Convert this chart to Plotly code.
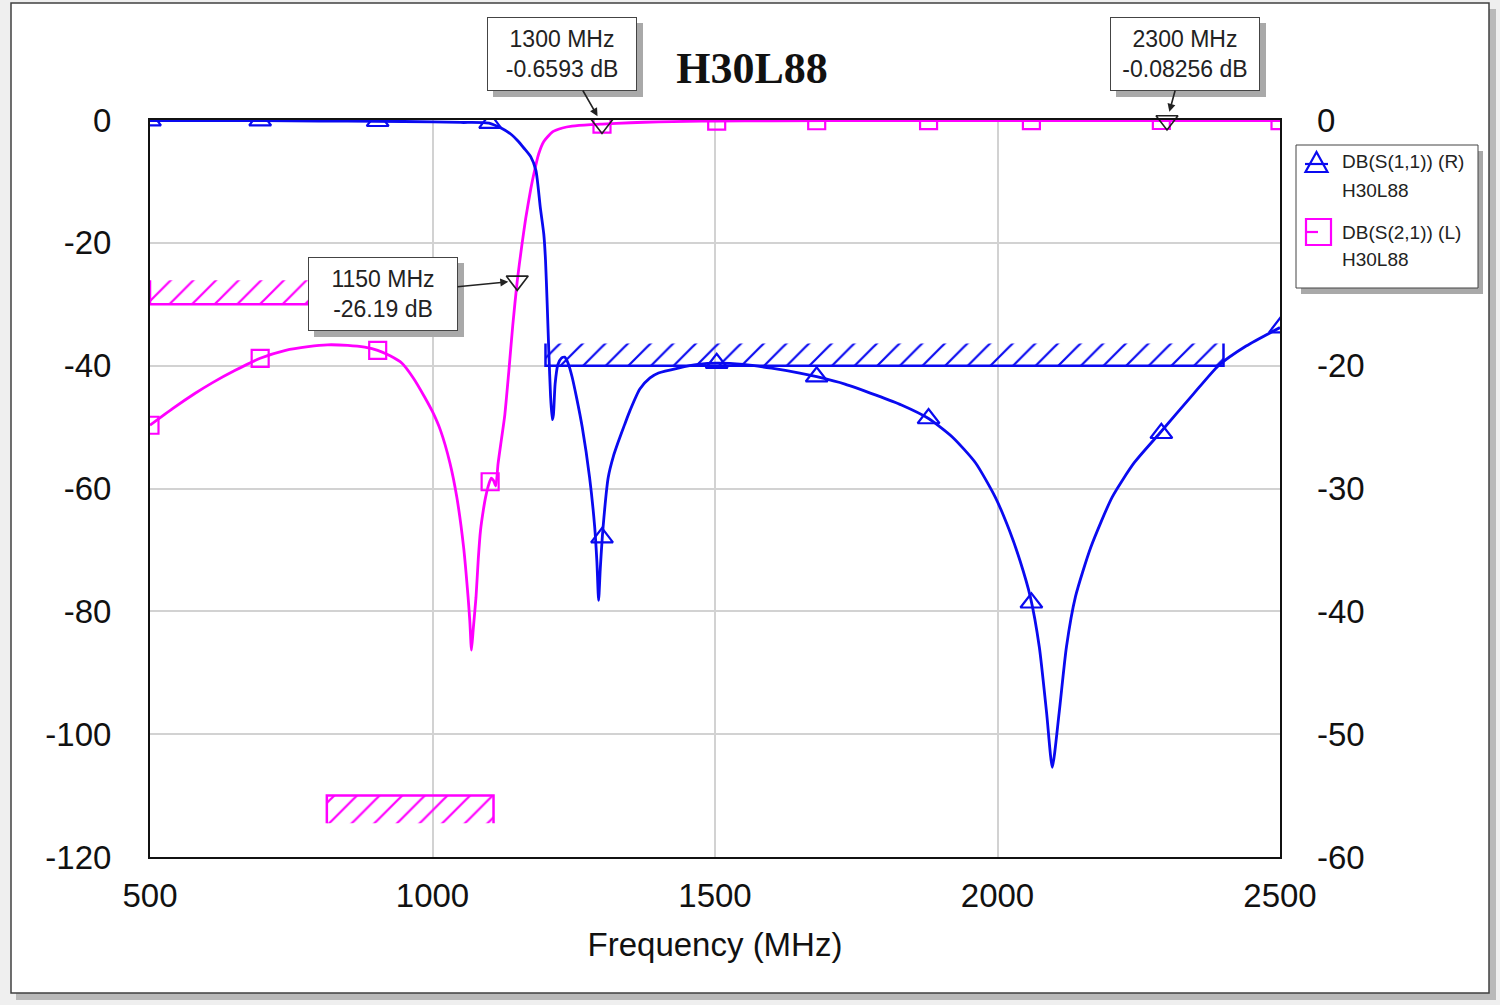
import plotly.graph_objects as go

# ---------------- data ----------------
# DB(S(2,1)) (L)  -- left axis
s21_freq = [500, 540, 580, 610, 650, 695, 740, 780, 814, 850, 880, 903, 925, 946, 966, 986,
            1000, 1014, 1031, 1043, 1055, 1063, 1066, 1069, 1072, 1077, 1081, 1085, 1090, 1094,
            1100, 1104, 1108, 1112, 1116, 1122, 1128, 1135, 1142, 1150, 1158, 1165, 1174, 1180,
            1188, 1197, 1213, 1230, 1247, 1280, 1300, 1350, 1400, 1450, 1500, 1600, 1800, 2000,
            2300, 2500]
s21_db = [-49.7, -47.0, -44.5, -42.8, -40.8, -38.8, -37.5, -36.9, -36.6, -36.7, -37.0, -37.5,
          -38.4, -39.6, -42.0, -45.1, -47.5, -50.5, -55.9, -61.4, -69.5, -77.7, -81.5, -86.3,
          -83.0, -77.7, -71.5, -66.8, -63.5, -61.4, -59.2, -58.3, -58.7, -59.6, -56.0, -52.0,
          -48.0, -41.0, -33.5, -26.19, -20.5, -16.0, -11.2, -8.5, -5.5, -3.5, -1.9, -1.3, -1.0,
          -0.75, -0.6593, -0.45, -0.30, -0.22, -0.18, -0.14, -0.10, -0.09, -0.08256, -0.09]

# DB(S(1,1)) (R)  -- right axis
s11_freq = [500, 600, 700, 800, 900, 1000, 1050, 1100, 1123, 1140, 1150, 1162, 1174, 1183,
            1191, 1197, 1200, 1203, 1206, 1209, 1212, 1214, 1217, 1222, 1228, 1234, 1240, 1247,
            1255, 1265, 1278, 1287, 1291, 1294, 1297, 1302, 1311, 1320, 1328, 1340, 1350, 1367,
            1385, 1400, 1435, 1470, 1503, 1550, 1600, 1650, 1680, 1730, 1785, 1830, 1878, 1920,
            1961, 1996, 2021, 2040, 2058, 2074, 2087, 2097, 2109, 2122, 2138, 2165, 2203, 2242,
            2287, 2345, 2391, 2440, 2500]
s11_db = [-0.05, -0.05, -0.05, -0.08, -0.10, -0.15, -0.20, -0.25, -0.7, -1.2, -1.65, -2.3,
          -3.0, -4.1, -7.2, -9.3, -11.4, -15.0, -19.0, -22.5, -24.4, -24.0, -21.5, -19.9,
          -19.4, -19.3, -19.8, -20.9, -22.6, -25.0, -29.1, -33.1, -36.0, -39.1, -36.5, -33.1,
          -29.1, -27.4, -26.3, -24.8, -23.6, -21.9, -21.0, -20.6, -20.2, -19.9, -19.8, -19.9,
          -20.2, -20.6, -20.9, -21.5, -22.4, -23.2, -24.3, -25.8, -27.9, -30.7, -33.4, -35.9,
          -38.8, -42.9, -48.3, -52.7, -48.3, -42.9, -38.8, -34.8, -30.7, -27.9, -25.5, -22.4,
          -20.0, -18.4, -16.9]

# trace symbols (same frequencies for both traces)
sym_freq = [500, 695, 903, 1102, 1300, 1503, 1680, 1878, 2060, 2290, 2500]
s21_sym_db = [-49.7, -38.8, -37.5, -58.9, -0.66, -0.18, -0.12, -0.10, -0.09, -0.083, -0.09]
s11_sym_db = [-0.05, -0.05, -0.10, -0.25, -34.0, -19.8, -20.9, -24.3, -39.3, -25.5, -16.9]

# readout markers on DB(S(2,1))
mk_freq = [1150, 1300, 2300]
mk_db = [-26.19, -0.6593, -0.08256]
mk_text = ["1150 MHz<br>-26.19 dB", "1300 MHz<br>-0.6593 dB", "2300 MHz<br>-0.08256 dB"]

# specification goals: (f1, f2, limit, hatch edge)
spec_s21_a = [500, 800, -30, -26.1]
spec_s21_b = [813, 1108, -110, -114.5]
spec_s11 = [1200, 2400, -20, -18.2]

x_ticks = [500, 1000, 1500, 2000, 2500]
x_ticktext = ["500", "1000", "1500", "2000", "2500"]
yl_ticks = [0, -20, -40, -60, -80, -100, -120]
yl_ticktext = ["0", "-20", "-40", "-60", "-80", "-100", "-120"]
# the -10 label of the right axis is hidden behind the legend in the reference
yr_ticks = [0, -20, -30, -40, -50, -60]
yr_ticktext = ["0", "-20", "-30", "-40", "-50", "-60"]

legend_names = ["DB(S(1,1)) (R)", "H30L88", "DB(S(2,1)) (L)", "H30L88"]

# ---------------- styling ----------------
W, H = 1500, 1005
ML, MR, MT, MB = 150, 220, 120, 148
PW, PH = W - ML - MR, H - MT - MB
BLUE = "#0a0af0"
PINK = "#ff00ff"
SANS = "Liberation Sans, Arial, sans-serif"
SERIF = "Liberation Serif, Times New Roman, serif"


def fx(p):
    return (p - ML) / PW


def fy(p):
    return (H - MB - p) / PH


def pix_x(f):
    return ML + (f - 500) / 2000 * PW


def pix_yl(v):
    return MT + (-v) / 120 * PH


fig = go.Figure()


def spec(s, color, yaxis):
    f1, f2, lim, edge = s
    fig.add_trace(go.Scatter(
        x=[f1, f2, f2, f1, f1], y=[lim, lim, edge, edge, lim], yaxis=yaxis,
        fill="toself", mode="none", fillcolor="rgba(0,0,0,0)",
        fillpattern=dict(shape="/", fgcolor=color, bgcolor="rgba(0,0,0,0)",
                         size=16, solidity=0.14, fillmode="replace"),
        hoverinfo="skip", showlegend=False))
    fig.add_trace(go.Scatter(
        x=[f1, f1, f2, f2], y=[edge, lim, lim, edge], yaxis=yaxis, mode="lines",
        line=dict(color=color, width=2.5), hoverinfo="skip", showlegend=False))


spec(spec_s21_a, PINK, "y")
spec(spec_s21_b, PINK, "y")
spec(spec_s11, BLUE, "y2")

fig.add_trace(go.Scatter(x=s21_freq, y=s21_db, yaxis="y", mode="lines",
                         line=dict(color=PINK, width=2.8, shape="spline", smoothing=0.6),
                         showlegend=False))
fig.add_trace(go.Scatter(x=s11_freq, y=s11_db, yaxis="y2", mode="lines",
                         line=dict(color=BLUE, width=2.8, shape="spline", smoothing=0.6),
                         showlegend=False))
fig.add_trace(go.Scatter(x=sym_freq, y=s21_sym_db, yaxis="y", mode="markers",
                         marker=dict(symbol="square-open", size=17, color=PINK,
                                     line=dict(width=2.2, color=PINK)),
                         showlegend=False))
fig.add_trace(go.Scatter(x=sym_freq, y=s11_sym_db, yaxis="y2", mode="markers",
                         marker=dict(symbol="triangle-up-open", size=19, color=BLUE,
                                     line=dict(width=2.2, color=BLUE)),
                         showlegend=False))
fig.add_trace(go.Scatter(x=mk_freq, y=mk_db, yaxis="y", mode="markers", cliponaxis=False,
                         marker=dict(symbol="triangle-down-open", size=19, color="#222",
                                     line=dict(width=1.6, color="#222")),
                         showlegend=False))

# ---------------- readout boxes ----------------
box_centers = [(383, 294), (562, 54), (1185, 54)]
annotations = []
for f, v, t, (cx, cy) in zip(mk_freq, mk_db, mk_text, box_centers):
    ax = cx - pix_x(f)
    ay = cy - pix_yl(v)
    # drop shadow box (no text)
    annotations.append(dict(x=f, y=v, xref="x", yref="y", text="\u00a0", width=136, height=60,
                            borderpad=6, borderwidth=1, showarrow=False,
                            xshift=ax + 6, yshift=-(ay + 6),
                            bgcolor="#a9a9a9", bordercolor="#a9a9a9",
                            font=dict(family=SANS, size=23, color="#a9a9a9")))
    annotations.append(dict(x=f, y=v, xref="x", yref="y", text=t, width=136, height=60,
                            borderpad=6, borderwidth=1,
                            font=dict(family=SANS, size=23, color="#222"),
                            showarrow=True, ax=ax, ay=ay, axref="pixel", ayref="pixel",
                            bgcolor="white", bordercolor="#444", arrowhead=2, arrowsize=1,
                            arrowwidth=1.6, arrowcolor="#222", standoff=9))

# ---------------- legend (custom box) ----------------
for txt, yy in zip(legend_names, [162, 190, 232, 259]):
    annotations.append(dict(x=fx(1340), y=fy(yy), xref="paper", yref="paper", text=txt,
                            showarrow=False, xanchor="left", yanchor="middle",
                            font=dict(family=SANS, size=19, color="#222")))

shapes = [
    # outer panel shadow and panel
    dict(type="rect", xref="paper", yref="paper", x0=fx(16), x1=fx(1496), y0=fy(9), y1=fy(1000),
         fillcolor="#b9b9b9", line=dict(width=0), layer="below"),
    dict(type="rect", xref="paper", yref="paper", x0=fx(11), x1=fx(1489), y0=fy(3), y1=fy(993),
         fillcolor="white", line=dict(color="#404040", width=1.5), layer="below"),
    # legend shadow and box
    dict(type="rect", xref="paper", yref="paper", x0=fx(1301), x1=fx(1483), y0=fy(151), y1=fy(294),
         fillcolor="#a9a9a9", line=dict(width=0), layer="above"),
    dict(type="rect", xref="paper", yref="paper", x0=fx(1296), x1=fx(1478), y0=fy(145), y1=fy(288),
         fillcolor="white", line=dict(color="#444", width=1), layer="above"),
    # legend symbol S11: triangle with line
    dict(type="path", xref="paper", yref="paper",
         path=f"M {fx(1316.5)},{fy(152)} L {fx(1305.5)},{fy(172)} L {fx(1327.5)},{fy(172)} Z",
         line=dict(color=BLUE, width=2.2), layer="above"),
    dict(type="line", xref="paper", yref="paper", x0=fx(1305), x1=fx(1328), y0=fy(164), y1=fy(164),
         line=dict(color=BLUE, width=2.2), layer="above"),
    # legend symbol S21: square with line
    dict(type="rect", xref="paper", yref="paper", x0=fx(1306), x1=fx(1331), y0=fy(219), y1=fy(245),
         line=dict(color=PINK, width=2.2), layer="above"),
    dict(type="line", xref="paper", yref="paper", x0=fx(1306), x1=fx(1318), y0=fy(232), y1=fy(232),
         line=dict(color=PINK, width=2.2), layer="above"),
]

fig.update_layout(
    width=W, height=H, margin=dict(l=ML, r=MR, t=MT, b=MB),
    paper_bgcolor="#efefef", plot_bgcolor="white", hovermode=False, showlegend=False,
    title=dict(text="<b>H30L88</b>", x=fx(752), xref="paper", xanchor="center",
               y=1 - 68 / H, yref="container", yanchor="middle",
               font=dict(family=SERIF, size=44, color="#111")),
    xaxis=dict(range=[500, 2500], tickvals=x_ticks, ticktext=x_ticktext, ticks="",
               ticklabelstandoff=8, tickfont=dict(family=SANS, size=33, color="#111"),
               showgrid=True, gridcolor="#d2d2d2", gridwidth=1.5, zeroline=False,
               showline=True, linecolor="#111", linewidth=2, mirror=True,
               title=dict(text="Frequency (MHz)", standoff=20,
                          font=dict(family=SANS, size=33, color="#111"))),
    yaxis=dict(range=[-120, 0], tickvals=yl_ticks, ticktext=yl_ticktext, ticks="",
               ticklabelstandoff=30, tickfont=dict(family=SANS, size=33, color="#111"),
               showgrid=True, gridcolor="#d2d2d2", gridwidth=1.5, zeroline=False,
               showline=True, linecolor="#111", linewidth=2, mirror=True),
    yaxis2=dict(range=[-60, 0], tickvals=yr_ticks, ticktext=yr_ticktext, ticks="",
                overlaying="y", side="right", ticklabelstandoff=36,
                tickfont=dict(family=SANS, size=33, color="#111"),
                showgrid=False, zeroline=False, showline=False),
    annotations=annotations, shapes=shapes,
)

fig.write_html("out.html")
